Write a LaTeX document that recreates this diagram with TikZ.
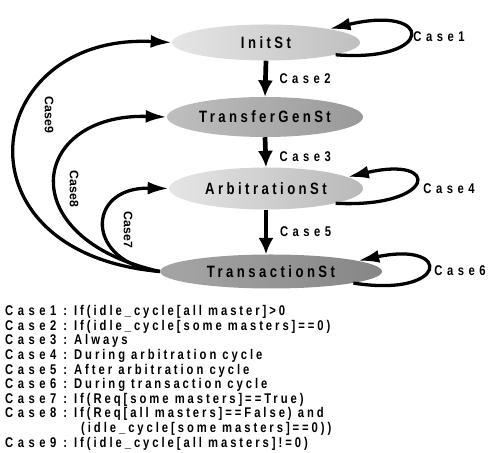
\documentclass[tikz,border=0pt]{standalone}
\usepackage{fontspec}
\usepackage{array}
\setmainfont{Liberation Sans}
\newfontfamily\casefont[FakeStretch=0.8,LetterSpace=21]{Liberation Sans}
\newfontfamily\widefont[FakeStretch=0.8,LetterSpace=32]{Liberation Sans}
\usetikzlibrary{arrows.meta,shapes.geometric,positioning}

\begin{document}
\begin{tikzpicture}[x=0.03cm,y=0.03cm,
    stnode/.style={ellipse, inner sep=0pt, font=\casefont\bfseries\fontsize{14}{16}\selectfont},
    cslabel/.style={inner sep=0pt, font=\widefont\bfseries\fontsize{12}{12.5}\selectfont},
    sidelabel/.style={inner sep=0pt, rotate=-90, font=\bfseries\fontsize{10.5}{12.5}\selectfont},
    dnarrow/.style={line width=4pt, -{Latex[length=14pt,width=13pt]}},
    curvy/.style={line width=2.8pt, -{Latex[length=18pt,width=11pt]}}]
             \useasboundingbox (0,0) rectangle (490,453);

             \node[stnode, minimum width=5.64cm, minimum height=1.08cm, left color=gray!20, right color=gray!50] (init) at (266,410.5) {InitSt};
             \node[stnode, minimum width=5.88cm, minimum height=1.2cm, left color=gray!50, right color=gray!80] (tgen) at (265,336) {TransferGenSt};
             \node[stnode, minimum width=5.82cm, minimum height=1.26cm, left color=gray!20, right color=gray!55] (arb) at (266,264.5) {ArbitrationSt};
             \node[stnode, minimum width=6.66cm, minimum height=1.02cm, left color=gray!70, right color=gray!95] (trans) at (271,181.5) {TransactionSt};

             \draw[dnarrow] (init.south) -- node[cslabel, right=10pt] (c2) {Case2} (tgen.north);
             \draw[dnarrow] (tgen.south) -- node[cslabel, right=10pt, pos=.65] (c3) {Case3} (arb.north);
             \draw[dnarrow] (arb.south) -- node[cslabel, right=10pt] (c5) {Case5} (arb.south |- trans.north);

             \draw[curvy] (init.-10) .. controls +(100,-8) and +(105,25) .. (init.12);
             \node[cslabel] (c1) at (439,416) {Case1};
             \draw[curvy] (arb.-12) .. controls +(100,-5) and +(95,22) .. (arb.8);
             \node[cslabel] (c4) at (449,264) {Case4};
             \draw[curvy] (trans.-8) .. controls +(95,-15) and +(95,20) .. (trans.7);
             \node[cslabel] (c6) at (460,182) {Case6};

             \draw[curvy] (trans.west) .. controls (85,190) and (85,266) .. (arb.west);
             \node[sidelabel] (c7) at (128,223) {Case7};
             \draw[curvy] (trans.west) .. controls (10,215) and (30,340) .. (tgen.west);
             \node[sidelabel] (c8) at (74,264) {Case8};
             \draw[curvy] (trans.west) .. controls (-50,200) and (-20,420) .. (init.west);
             \node[sidelabel] (c9) at (49,338) {Case9};

             \node[inner sep=0pt, font=\casefont\bfseries\fontsize{12}{12.5}\selectfont, anchor=north west] (legend) at (5,148) {%
               \begin{tabular}{@{}>{\widefont}l@{\hspace{6pt}}l@{\hspace{6pt}}l@{}}
               Case1 & : & If(idle\_cycle[all master]>0 \\
               Case2 & : & If(idle\_cycle[some masters]==0) \\
               Case3 & : & Always \\
               Case4 & : & During arbitration cycle \\
               Case5 & : & After arbitration cycle \\
               Case6 & : & During transaction cycle \\
               Case7 & : & If(Req[some masters]==True) \\
               Case8 & : & If(Req[all masters]==False) and \\
                     &   & \hspace{0.5em}(idle\_cycle[some masters]==0)) \\
               Case9 & : & If(idle\_cycle[all masters]!=0)
               \end{tabular}};
             \end{tikzpicture}
\end{document}
